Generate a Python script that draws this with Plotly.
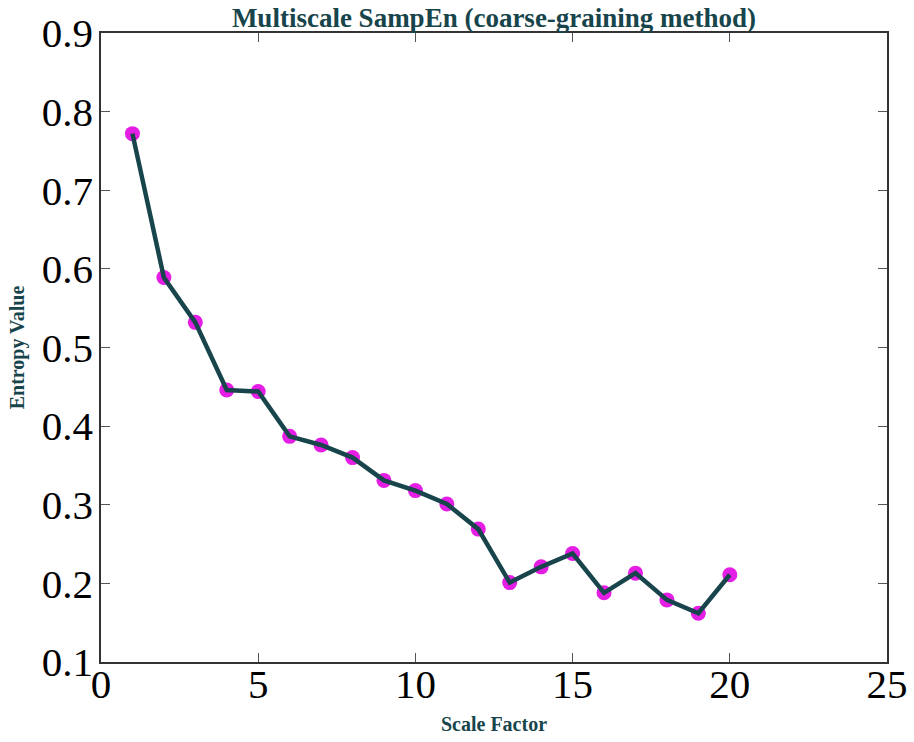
import plotly.graph_objects as go

# Multiscale sample entropy per scale factor
scale_factor = list(range(1, 21))
entropy_value = [0.772, 0.589, 0.532, 0.446, 0.444, 0.387, 0.376, 0.360, 0.331, 0.318,
                 0.301, 0.269, 0.201, 0.221, 0.238, 0.188, 0.213, 0.179, 0.162, 0.211]

x_ticks = [0, 5, 10, 15, 20, 25]
y_ticks = [0.1, 0.2, 0.3, 0.4, 0.5, 0.6, 0.7, 0.8, 0.9]

teal = "#17454b"
magenta = "#e41ee4"
serif = "Liberation Serif, Times New Roman, serif"

fig = go.Figure()
# markers underneath, connecting line drawn on top
fig.add_trace(go.Scatter(x=scale_factor, y=entropy_value, mode="markers",
                         marker=dict(color=magenta, size=15, line=dict(width=0)),
                         showlegend=False, hoverinfo="skip"))
fig.add_trace(go.Scatter(x=scale_factor, y=entropy_value, mode="lines",
                         line=dict(color=teal, width=4.5),
                         showlegend=False))

axis_common = dict(
    showgrid=False, zeroline=False, showline=True, linecolor="#333333", linewidth=1.5,
    mirror="allticks", ticks="inside", ticklen=9, tickwidth=1, tickcolor="#555555",
    tickfont=dict(family=serif, size=41, color="black"), automargin=False,
)

fig.update_layout(
    width=914, height=742,
    margin=dict(l=101, r=27, t=33, b=80),
    paper_bgcolor="white", plot_bgcolor="white",
    title=dict(text="<b>Multiscale SampEn (coarse-graining method)</b>",
               font=dict(family=serif, size=27, color=teal),
               x=0.5405, xanchor="center", y=0.977, yanchor="middle"),
    xaxis=dict(range=[0, 25], tickvals=x_ticks, ticktext=[str(v) for v in x_ticks],
               ticklabelstandoff=-15,
               title=dict(text="<b>Scale Factor</b>", font=dict(family=serif, size=20, color=teal),
                          standoff=11),
               **axis_common),
    yaxis=dict(range=[0.1, 0.9], tickvals=y_ticks, ticktext=[f"{v:.1f}" for v in y_ticks],
               ticklabelstandoff=-2,
               title=dict(text="<b>Entropy Value</b>", font=dict(family=serif, size=20, color=teal),
                          standoff=12),
               **axis_common),
)

fig.write_html("out.html")
